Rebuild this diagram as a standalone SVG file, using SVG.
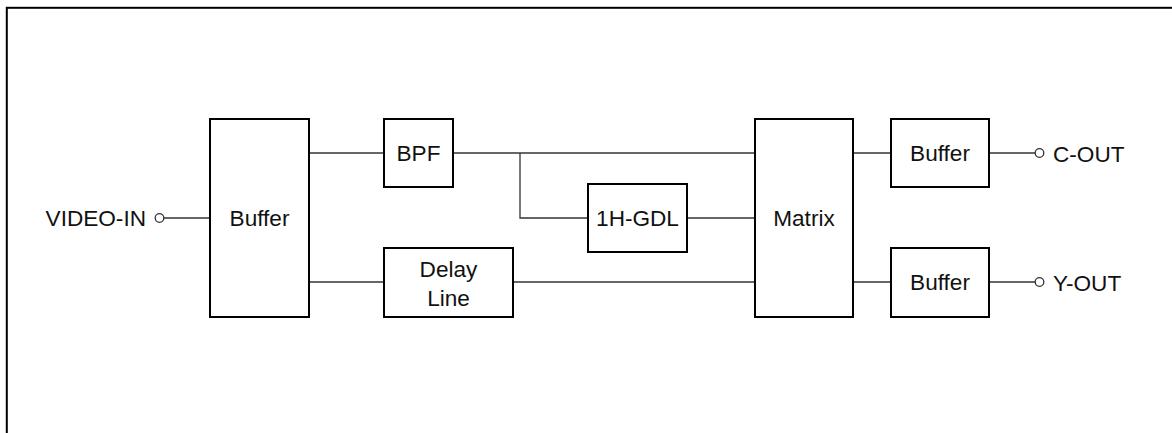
<svg xmlns="http://www.w3.org/2000/svg" width="1172" height="433" viewBox="0 0 1172 433">
<style>
.box{fill:#fff;stroke:#000;stroke-width:2}
.wire{fill:none;stroke:#333;stroke-width:1.3}
.term{fill:#fff;stroke:#333;stroke-width:1.3}
text{font-family:"Liberation Sans",Arial,Helvetica,sans-serif;font-size:22.6px;fill:#111}
.c{text-anchor:middle}
</style>
<rect width="1172" height="433" fill="#fff"/>
<rect x="6.8" y="7.8" width="1200" height="500" fill="none" stroke="#000" stroke-width="2"/>
<g id="connectors">
<line class="wire" x1="164" y1="218" x2="210" y2="218"/>
<line class="wire" x1="309" y1="153" x2="384" y2="153"/>
<line class="wire" x1="453" y1="153" x2="755" y2="153"/>
<polyline class="wire" points="520,153 520,218 588,218"/>
<line class="wire" x1="687" y1="218" x2="755" y2="218"/>
<line class="wire" x1="309" y1="282" x2="384" y2="282"/>
<line class="wire" x1="513" y1="282" x2="755" y2="282"/>
<line class="wire" x1="853" y1="153" x2="891" y2="153"/>
<line class="wire" x1="853" y1="282" x2="891" y2="282"/>
<line class="wire" x1="989" y1="153" x2="1035" y2="153"/>
<line class="wire" x1="989" y1="282" x2="1035" y2="282"/>
</g>
<g id="video-in">
<circle class="term" cx="159.5" cy="218" r="4.3"/>
<text x="146" y="226" text-anchor="end">VIDEO-IN</text>
</g>
<g id="buffer-in">
<rect class="box" x="210" y="119" width="99" height="198"/>
<text class="c" x="259.5" y="226">Buffer</text>
</g>
<g id="bpf">
<rect class="box" x="384" y="119" width="69" height="68"/>
<text class="c" x="418.5" y="161">BPF</text>
</g>
<g id="delay-line">
<rect class="box" x="384" y="248" width="129" height="69"/>
<text class="c" x="448.5" y="277">Delay</text>
<text class="c" x="448.5" y="306">Line</text>
</g>
<g id="gdl">
<rect class="box" x="588" y="184" width="99" height="68"/>
<text class="c" x="637.5" y="226">1H-GDL</text>
</g>
<g id="matrix">
<rect class="box" x="755" y="119" width="98" height="198"/>
<text class="c" x="804" y="226">Matrix</text>
</g>
<g id="buffer-c">
<rect class="box" x="891" y="119" width="98" height="68"/>
<text class="c" x="940" y="161">Buffer</text>
</g>
<g id="buffer-y">
<rect class="box" x="891" y="248" width="98" height="69"/>
<text class="c" x="940" y="290">Buffer</text>
</g>
<g id="c-out">
<circle class="term" cx="1039.5" cy="153" r="4.3"/>
<text x="1053" y="161.5">C-OUT</text>
</g>
<g id="y-out">
<circle class="term" cx="1039.5" cy="282" r="4.3"/>
<text x="1053" y="290.5">Y-OUT</text>
</g>
</svg>
